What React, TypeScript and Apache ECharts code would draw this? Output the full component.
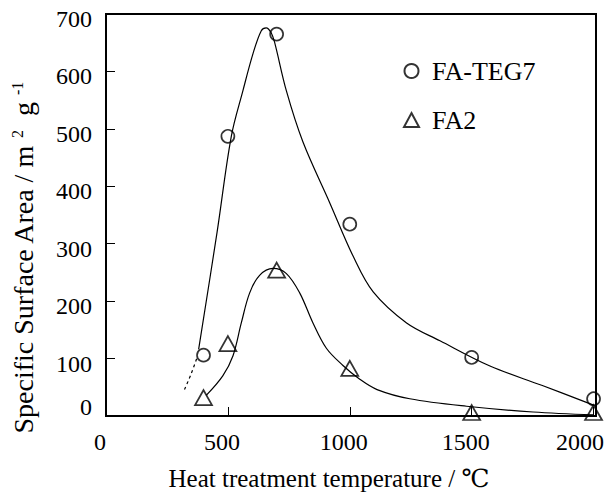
import React, { useEffect, useRef } from "react";
import * as echarts from "echarts";

const xTicks = [0, 500, 1000, 1500, 2000];
const yTicks = [0, 100, 200, 300, 400, 500, 600, 700];

const tegTemps = [400, 500, 700, 1000, 1500, 2000];
const tegArea = [106, 487, 665, 334, 102, 30];

const fa2Temps = [400, 500, 700, 1000, 1500, 2000];
const fa2Area = [32, 126, 254, 83, 6, 6];

// hand-drawn guide curves
const tegCurve: number[][] = [
  [380, 116], [456, 321], [514, 487], [562, 567], [603, 631], [637, 671], [657, 676],
  [678, 667], [692, 650], [740, 566], [808, 477], [918, 371], [1014, 278], [1096, 216],
  [1233, 162], [1370, 131], [1575, 87], [1790, 53], [2000, 19],
];
const tegDashed: number[][] = [[322, 46], [348, 72], [372, 100]];
const fa2Curve: number[][] = [
  [411, 36], [479, 70], [521, 105], [555, 162], [589, 214], [630, 245], [685, 257],
  [740, 248], [795, 214], [849, 162], [904, 118], [972, 88], [1041, 64], [1112, 46],
  [1246, 30], [1479, 17], [1752, 7], [2000, 2],
];

const FONT = "'Liberation Serif', 'Times New Roman', 'DejaVu Serif', serif";

export default function App() {
  const ref = useRef<HTMLDivElement>(null);
  useEffect(() => {
    if (!ref.current) return;
    const chart = echarts.init(ref.current, null, { renderer: "svg" });
    const lineBase = { type: "line", symbol: "none", silent: true, z: 2 };
    const txt = { fontFamily: FONT, color: "#000" };
    chart.setOption({
      animation: false,
      backgroundColor: "#fff",
      textStyle: { fontFamily: FONT, color: "#000" },
      grid: {
        left: 106,
        right: 12,
        top: 14,
        bottom: 75,
        show: true,
        borderColor: "#000",
        borderWidth: 2,
        backgroundColor: "transparent",
      },
      legend: {
        orient: "vertical",
        left: 403,
        top: 58,
        padding: 0,
        itemGap: 23,
        itemWidth: 15,
        itemHeight: 14,
        data: ["FA-TEG7", "FA2"],
        textStyle: { ...txt, fontSize: 26, padding: [0, 0, 0, 8] },
      },
      xAxis: {
        type: "value",
        min: 0,
        max: 2010,
        interval: 500,
        splitLine: { show: false },
        axisLine: { show: false },
        axisTick: { show: true, inside: true, length: 9, lineStyle: { color: "#000", width: 1 } },
        axisLabel: {
          margin: 14,
          ...txt,
          fontSize: 24,
          formatter: (v: number) =>
            xTicks.includes(v) ? (v === 2000 ? `{e|${v}}` : `{n|${v}}`) : "",
          rich: {
            n: { ...txt, fontSize: 24, padding: [0, 12, 0, 0] },
            e: { ...txt, fontSize: 24, padding: [0, 27, 0, 0] },
          },
        },
        name: "Heat treatment temperature / ℃",
        nameLocation: "middle",
        nameGap: 50,
        nameTextStyle: { ...txt, fontSize: 25, padding: [0, 44, 0, 0] },
      },
      yAxis: {
        type: "value",
        min: 0,
        max: 700,
        interval: 100,
        splitLine: { show: false },
        axisLine: { show: false },
        axisTick: { show: true, inside: true, length: 9, lineStyle: { color: "#000", width: 1 } },
        axisLabel: {
          margin: 14,
          ...txt,
          fontSize: 24,
          formatter: (v: number) =>
            yTicks.includes(v) ? (v === 0 ? `{z|${v}}` : `{n|${v}}`) : "",
          rich: {
            n: { ...txt, fontSize: 24, padding: [10, 0, 0, 0] },
            z: { ...txt, fontSize: 24, padding: [0, 0, 18, 0] },
          },
        },
        name: "Specific Surface Area / m {sup|2}  g {sup|-1}",
        nameLocation: "middle",
        nameRotate: 90,
        nameGap: 69,
        nameTextStyle: {
          ...txt,
          fontSize: 28,
          padding: [0, 86, 0, 0],
          rich: {
            sup: { ...txt, fontSize: 16, verticalAlign: "top", padding: [0, 0, 10, 0] },
          },
        },
      },
      series: [
        { ...lineBase, name: "c1", data: tegCurve, smooth: 0.35, lineStyle: { color: "#000", width: 1.2 } },
        { ...lineBase, name: "c1d", data: tegDashed, smooth: 0.4, lineStyle: { color: "#000", width: 1.2, type: [3, 3] } },
        { ...lineBase, name: "c2", data: fa2Curve, smooth: 0.35, lineStyle: { color: "#000", width: 1.2 } },
        {
          type: "scatter",
          name: "FA-TEG7",
          z: 5,
          symbol: "circle",
          symbolSize: 13,
          itemStyle: { color: "rgba(255,255,255,0)", borderColor: "#000", borderWidth: 1.7 },
          data: tegTemps.map((t, i) => [t, tegArea[i]]),
        },
        {
          type: "scatter",
          name: "FA2",
          z: 5,
          symbol: "triangle",
          symbolSize: [17, 15],
          itemStyle: { color: "rgba(255,255,255,0)", borderColor: "#000", borderWidth: 1.7 },
          data: fa2Temps.map((t, i) => [t, fa2Area[i]]),
        },
      ],
    });
    return () => chart.dispose();
  }, []);
  return (
    <div
      ref={ref}
      style={{ position: "fixed", left: 0, top: 0, width: 608, height: 496 }}
    />
  );
}
